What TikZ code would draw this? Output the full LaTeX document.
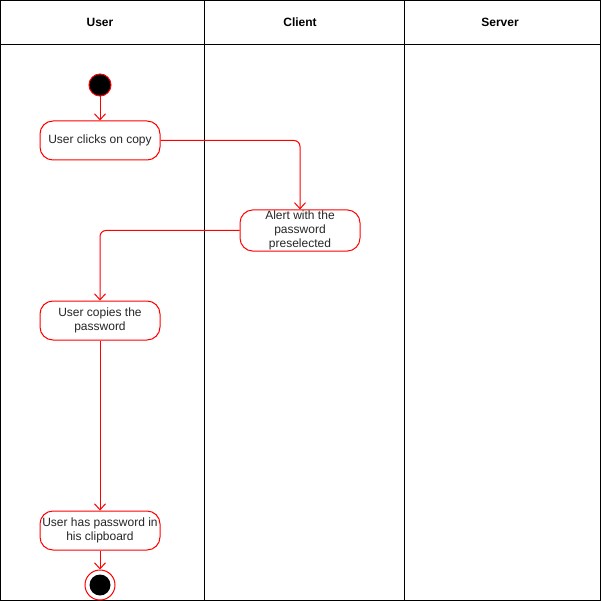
\documentclass[tikz,border=0pt]{standalone}
\usepackage{fontspec}
\setmainfont{Liberation Sans}
\usetikzlibrary{arrows.meta}
\definecolor{lred}{HTML}{FF0000}
\begin{document}
\begin{tikzpicture}[x=1pt,y=-1pt,
  lane/.style={draw=black,line width=1pt},
  hdr/.style={font=\fontsize{12}{14}\selectfont\bfseries,text=black},
  act/.style={draw=lred,line width=1pt,fill=white,rounded corners=13pt,minimum width=120pt,minimum height=39pt,inner sep=1pt,align=center,font=\fontsize{12}{14}\selectfont,text=black!85,execute at begin node={\vspace*{3pt}}},
  flow/.style={draw=lred,line width=1pt,-{Straight Barb[length=6pt,width=11pt,line width=1pt]},rounded corners=6pt},
  startst/.style={circle,draw=lred,line width=1pt,fill=black,minimum size=22pt,inner sep=0pt},
  endst/.style={circle,draw=lred,line width=1pt,fill=white,minimum size=30pt,inner sep=0pt}
]
\useasboundingbox (0,0) rectangle (601,601);
\draw[lane] (0.5,0.5) rectangle (600.5,600.5);
\draw[lane] (204.5,0.5) -- (204.5,600.5);
\draw[lane] (404.5,0.5) -- (404.5,600.5);
\draw[lane] (0.5,44.5) -- (600.5,44.5);
\node[hdr] (hu) at (100,22.5) {User};
\node[hdr] (hc) at (300,22.5) {Client};
\node[hdr] (hs) at (500,22.5) {Server};

\node[startst] (s) at (100,85) {};
\node[act] (a1) at (100,140.5) {User clicks on copy};
\node[act] (a2) at (300,230.5) {Alert with the\\password\\preselected};
\node[act] (a3) at (100,320.5) {User copies the\\password};
\node[act] (a4) at (100,530.5) {User has password in\\his clipboard};
\node[endst] (e) at (100,585) {};
\node[circle,fill=black,minimum size=21pt,inner sep=0pt] (ei) at (e) {};

\draw[flow] (s) -- (a1);
\draw[flow] (a1.east) -| (a2.north);
\draw[flow] (a2.west) -| (a3.north);
\draw[flow] (a3) -- (a4);
\draw[flow] (a4) -- (e);
\end{tikzpicture}
\end{document}
